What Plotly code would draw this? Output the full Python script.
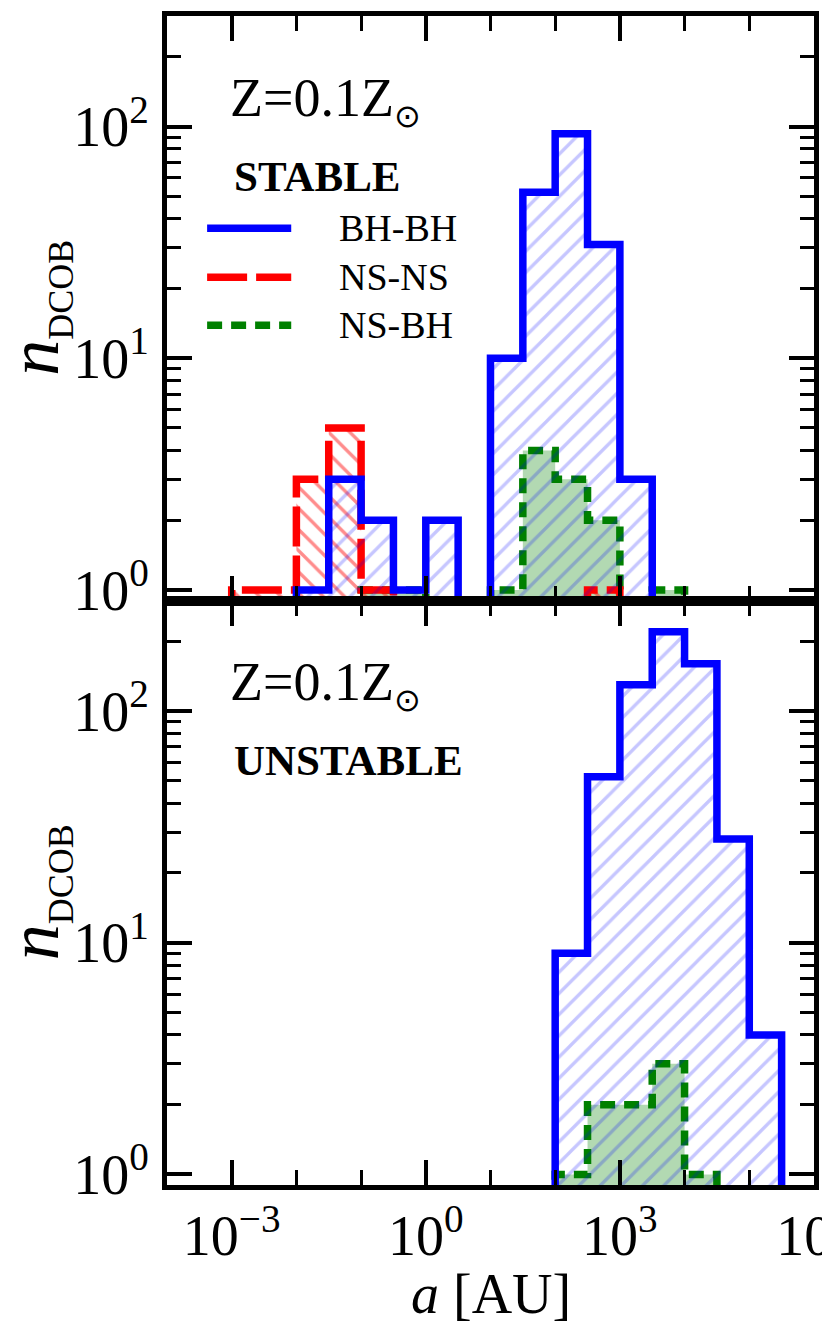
import numpy as np
import plotly.graph_objects as go
from plotly.subplots import make_subplots

# ---- data -------------------------------------------------------------
# histogram bin edges in log10(a/AU): half-decade bins from 1e-4 to 1e6
log_edges = [-4.0 + 0.5 * i for i in range(21)]

# counts per bin (20 bins)
stable_bhbh = [0, 0, 0, 0, 1, 3, 2, 1, 2, 0, 10, 52, 93, 31, 3, 0, 0, 0, 0, 0]
stable_nsns = [0, 0, 1, 1, 3, 5, 1, 0, 0, 0, 0, 0, 0, 1, 0, 0, 0, 0, 0, 0]
stable_nsbh = [0, 0, 0, 0, 0, 0, 1, 1, 0, 0, 1, 4, 3, 2, 0, 1, 0, 0, 0, 0]

unstable_bhbh = [0, 0, 0, 0, 0, 0, 0, 0, 0, 0, 0, 0, 9, 52, 130, 220, 160, 28, 4, 0]
unstable_nsns = [0] * 20
unstable_nsbh = [0, 0, 0, 0, 0, 0, 0, 0, 0, 0, 0, 0, 1, 2, 2, 3, 1, 0, 0, 0]

series_names = ["BH-BH", "NS-NS", "NS-BH"]
x_major = [1e-3, 1e0, 1e3, 1e6]
x_major_text = ["10<sup>\u22123</sup>", "10<sup>0</sup>", "10<sup>3</sup>", "10<sup>6</sup>"]
y_major = [1, 10, 100]
y_major_text = ["10<sup>0</sup>", "10<sup>1</sup>", "10<sup>2</sup>"]

FLOOR = 0.3  # below the visible y range (outline base for empty bins)


def step_outline(counts):
    edges = 10 ** np.array(log_edges)
    c = [v if v > 0 else FLOOR for v in counts]
    xs = [edges[0]]
    ys = [FLOOR]
    for i, v in enumerate(c):
        xs += [edges[i], edges[i + 1]]
        ys += [v, v]
    xs.append(edges[-1])
    ys.append(FLOOR)
    return xs, ys


FONT = "Liberation Serif"

line_styles = {
    "BH-BH": dict(color="blue", width=7.5, dash="solid"),
    "NS-NS": dict(color="red", width=7.5, dash="40px,9px"),
    "NS-BH": dict(color="green", width=7.5, dash="15px,9px"),
}
fill_styles = {
    "BH-BH": dict(fillcolor="rgba(0,0,0,0)",
                  fillpattern=dict(shape="/", fgcolor="rgba(0,0,255,0.45)",
                                   bgcolor="rgba(255,255,255,0)", size=15, solidity=0.22)),
    "NS-NS": dict(fillcolor="rgba(0,0,0,0)",
                  fillpattern=dict(shape="\\", fgcolor="rgba(255,0,0,0.9)",
                                   bgcolor="rgba(255,255,255,0)", size=15, solidity=0.22)),
    "NS-BH": dict(fillcolor="rgba(0,128,0,0.3)"),
}

fig = make_subplots(rows=2, cols=1, shared_xaxes=True, vertical_spacing=0)

panels = [
    (1, {"NS-BH": stable_nsbh, "NS-NS": stable_nsns, "BH-BH": stable_bhbh}),
    (2, {"NS-BH": unstable_nsbh, "NS-NS": unstable_nsns, "BH-BH": unstable_bhbh}),
]

for row, data in panels:
    for name in ["NS-BH", "NS-NS", "BH-BH"]:
        xs, ys = step_outline(data[name])
        fig.add_trace(go.Scatter(x=xs, y=ys, mode="lines", fill="toself",
                                 line=line_styles[name], name=name, showlegend=False,
                                 hoverinfo="skip", **fill_styles[name]),
                      row=row, col=1)

minor_x = [10.0 ** k for k in range(-4, 7)]
minor_y = [m * 10.0 ** k for k in range(0, 3) for m in range(2, 10)]

for row in (1, 2):
    fig.update_xaxes(
        type="log", range=[-4, 6.0005], row=row, col=1,
        showline=True, linewidth=5, linecolor="black", mirror="ticks",
        ticks="inside", ticklen=25, tickwidth=4, tickcolor="black",
        tickmode="array", tickvals=x_major, ticktext=x_major_text,
        minor=dict(tickmode="array", tickvals=minor_x, ticks="inside",
                   ticklen=15, tickwidth=3, tickcolor="black", showgrid=False),
        showgrid=False, zeroline=False,
        tickfont=dict(family=FONT, size=56, color="black"),
        showticklabels=(row == 2), ticklabelstandoff=-2,
        ticklabeloverflow="allow", automargin=False,
    )
    fig.update_yaxes(
        type="log", range=[np.log10(0.9), np.log10(300)], row=row, col=1,
        showline=True, linewidth=5, linecolor="black", mirror="ticks",
        ticks="inside", ticklen=25, tickwidth=4, tickcolor="black",
        tickmode="array", tickvals=y_major, ticktext=y_major_text,
        minor=dict(tickmode="array", tickvals=minor_y, ticks="inside",
                   ticklen=14, tickwidth=3, tickcolor="black", showgrid=False),
        showgrid=False, zeroline=False,
        tickfont=dict(family=FONT, size=56, color="black"),
        ticklabelstandoff=2, automargin=False,
    )

ann = []
shapes = []
for xr, yr, label in (("x domain", "y domain", "STABLE"), ("x2 domain", "y2 domain", "UNSTABLE")):
    ann.append(dict(xref=xr, yref=yr, x=0.095, y=0.855, xanchor="left", yanchor="middle",
                    text="Z=0.1Z<sub><span style='font-size:32px'>\u2299</span></sub>",
                    showarrow=False, font=dict(family=FONT, size=54, color="black")))
    ann.append(dict(xref=xr, yref=yr, x=0.1, y=0.726, xanchor="left", yanchor="middle",
                    text="<b>%s</b>" % label,
                    showarrow=False, font=dict(family=FONT, size=43, color="black")))
    ann.append(dict(xref="paper", yref=yr, x=-0.2, y=0.5, xanchor="center", yanchor="middle",
                    textangle=-90,
                    text="<i>n</i><sub><span style='font-size:36px'>DCOB</span></sub>",
                    showarrow=False, font=dict(family=FONT, size=72, color="black")))
ann.append(dict(xref="paper", yref="paper", x=0.5, y=-0.093, xanchor="center", yanchor="middle",
                text="<i>a</i> [AU]", showarrow=False,
                font=dict(family=FONT, size=56, color="black")))

# legend (drawn manually in the top panel)
leg_y = [0.637, 0.553, 0.471]
for name, yy in zip(series_names, leg_y):
    st = line_styles[name]
    shapes.append(dict(type="line", xref="x domain", yref="y domain",
                       x0=0.062, x1=0.192, y0=yy, y1=yy,
                       line=dict(color=st["color"], width=st["width"], dash=st["dash"])))
    ann.append(dict(xref="x domain", yref="y domain", x=0.262, y=yy, xanchor="left",
                    yanchor="middle", text=name, showarrow=False,
                    font=dict(family=FONT, size=38, color="black")))

# The page body has an 8px default margin, so the figure is sized to fit the window
fig.update_layout(
    width=814, height=1316,
    margin=dict(l=159, r=8, t=8, b=139),
    paper_bgcolor="white", plot_bgcolor="white",
    annotations=ann, shapes=shapes,
    showlegend=False,
)

fig.write_html("out.html")
